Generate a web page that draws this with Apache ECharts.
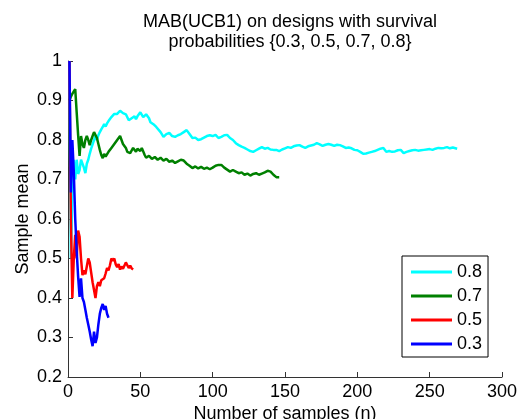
<!DOCTYPE html>
<html><head><meta charset="utf-8">
<script src="https://cdn.jsdelivr.net/npm/echarts@6/dist/echarts.min.js"></script>
<style>html,body{margin:0;padding:0;background:#fff}#c{width:525px;height:419px}</style>
</head><body><div id="c"></div>
<script>
const titleLines = ['MAB(UCB1) on designs with survival', 'probabilities {0.3, 0.5, 0.7, 0.8}'];
const seriesNames = ['0.8', '0.7', '0.5', '0.3'];
const seriesColors = ['#00FFFF', '#008000', '#FF0000', '#0000FF'];
const xTicks = [0, 50, 100, 150, 200, 250, 300];
const yTicks = [0.2, 0.3, 0.4, 0.5, 0.6, 0.7, 0.8, 0.9, 1];

const cyan08 = [[1,1.0],[2,0.5],[3,0.667],[4,0.75],[5,0.7],[6,0.75],[7,0.714],[8,0.724],[9,0.75],[10,0.745],[11,0.73],[12,0.716],[13,0.74],[14,0.75],[15,0.765],[16,0.778],[17,0.789],[18,0.8],[19,0.81],[20,0.8],[21,0.812],[22,0.82],[23,0.827],[24,0.833],[25,0.84],[26,0.834],[27,0.842],[28,0.848],[29,0.853],[30,0.858],[31,0.862],[32,0.866],[33,0.862],[34,0.866],[35,0.87],[36,0.874],[37,0.877],[38,0.868],[39,0.872],[40,0.865],[41,0.87],[42,0.85],[43,0.852],[44,0.855],[45,0.858],[46,0.86],[47,0.853],[48,0.86],[49,0.865],[50,0.87],[51,0.868],[52,0.858],[53,0.862],[54,0.865],[55,0.862],[56,0.855],[57,0.845],[58,0.848],[59,0.84],[60,0.835],[61,0.833],[62,0.83],[64,0.82],[66,0.808],[68,0.815],[70,0.818],[72,0.81],[74,0.808],[76,0.812],[78,0.815],[80,0.82],[82,0.825],[84,0.815],[86,0.805],[88,0.806],[90,0.8],[92,0.802],[94,0.806],[96,0.81],[98,0.812],[100,0.81],[102,0.813],[104,0.805],[106,0.808],[108,0.812],[110,0.813],[112,0.805],[114,0.8],[116,0.792],[118,0.787],[120,0.783],[122,0.78],[124,0.776],[126,0.772],[128,0.77],[130,0.774],[132,0.778],[134,0.782],[136,0.778],[138,0.78],[140,0.776],[142,0.775],[144,0.775],[146,0.772],[148,0.776],[150,0.779],[152,0.782],[154,0.78],[156,0.784],[158,0.786],[160,0.787],[162,0.783],[164,0.78],[166,0.784],[168,0.786],[170,0.788],[172,0.792],[174,0.789],[176,0.785],[178,0.788],[180,0.79],[182,0.788],[184,0.785],[186,0.788],[188,0.787],[190,0.784],[192,0.78],[194,0.781],[196,0.779],[198,0.775],[200,0.774],[202,0.77],[204,0.765],[206,0.766],[208,0.768],[210,0.77],[212,0.772],[214,0.775],[216,0.778],[218,0.78],[220,0.77],[222,0.772],[224,0.77],[226,0.771],[228,0.774],[230,0.775],[232,0.767],[234,0.77],[236,0.772],[238,0.774],[240,0.775],[242,0.773],[244,0.774],[246,0.775],[248,0.776],[250,0.777],[252,0.775],[254,0.778],[256,0.78],[258,0.779],[260,0.78],[262,0.782],[264,0.779],[266,0.781],[269,0.778]];

const green07 = [[1,0.9],[2,0.91],[3,0.917],[4,0.923],[5,0.929],[6,0.87],[7,0.813],[8,0.76],[9,0.81],[10,0.79],[11,0.78],[12,0.8],[13,0.81],[14,0.8],[15,0.787],[16,0.8],[17,0.81],[18,0.82],[19,0.815],[20,0.805],[21,0.79],[22,0.775],[23,0.762],[24,0.754],[25,0.765],[26,0.758],[27,0.762],[28,0.77],[29,0.775],[30,0.78],[31,0.785],[32,0.79],[33,0.795],[34,0.8],[35,0.805],[36,0.81],[37,0.81],[38,0.79],[39,0.795],[40,0.78],[41,0.77],[42,0.772],[43,0.767],[44,0.772],[45,0.78],[46,0.775],[47,0.77],[48,0.778],[49,0.775],[50,0.772],[51,0.78],[52,0.775],[53,0.762],[54,0.755],[56,0.76],[58,0.752],[60,0.757],[62,0.75],[64,0.755],[66,0.748],[68,0.752],[70,0.745],[72,0.748],[74,0.742],[76,0.746],[78,0.75],[80,0.748],[82,0.74],[84,0.735],[86,0.729],[88,0.733],[90,0.728],[92,0.732],[94,0.727],[96,0.73],[98,0.726],[100,0.73],[102,0.735],[104,0.737],[106,0.737],[108,0.73],[110,0.725],[112,0.72],[114,0.724],[116,0.72],[118,0.716],[120,0.718],[122,0.712],[124,0.715],[126,0.71],[128,0.714],[130,0.716],[132,0.712],[134,0.715],[136,0.718],[138,0.722],[140,0.72],[142,0.712],[144,0.706],[146,0.706]];

const red05 = [[1,1.0],[2,0.6],[3,0.4],[4,0.5],[5,0.56],[6,0.5],[7,0.571],[8,0.555],[9,0.5],[10,0.458],[11,0.47],[12,0.46],[13,0.48],[14,0.5],[15,0.49],[16,0.465],[17,0.44],[18,0.42],[19,0.4],[20,0.43],[21,0.44],[22,0.43],[23,0.445],[24,0.44],[25,0.45],[26,0.462],[27,0.476],[28,0.47],[29,0.483],[30,0.5],[31,0.494],[32,0.5],[33,0.485],[34,0.478],[35,0.486],[36,0.472],[37,0.48],[38,0.474],[39,0.478],[40,0.49],[41,0.483],[42,0.476],[43,0.482],[44,0.475],[45,0.472]];

const blue03 = [[1,1.0],[2,0.667],[3,0.8],[4,0.72],[5,0.6],[6,0.52],[7,0.454],[8,0.403],[9,0.45],[10,0.4],[11,0.39],[12,0.37],[13,0.35],[14,0.333],[15,0.315],[16,0.295],[17,0.278],[18,0.315],[19,0.286],[20,0.3],[21,0.333],[22,0.36],[23,0.375],[24,0.385],[25,0.37],[26,0.38],[27,0.36],[28,0.35]];

const allData = [cyan08, green07, red05, blue03];
const FONT = 'Liberation Sans, Arial, Helvetica, sans-serif';

const chart = echarts.init(document.getElementById('c'), null, {renderer: 'canvas'});
chart.setOption({
  animation: false,
  backgroundColor: '#fff',
  title: {
    text: titleLines.join('\n'),
    left: 285, top: 7, textAlign: 'center',
    textStyle: {fontFamily: FONT, fontSize: 18, fontWeight: 'normal', color: '#000', lineHeight: 20}
  },
  grid: {left: 68, right: 23, top: 61, bottom: 42, containLabel: false, outerBoundsMode: 'none'},
  legend: {
    orient: 'vertical', left: 402, top: 256,
    data: seriesNames.map(n => ({name: n, icon: 'rect'})),
    itemWidth: 41, itemHeight: 3, itemGap: 6,
    padding: [7, 6, 4, 9],
    borderColor: '#000', borderWidth: 1, backgroundColor: '#fff',
    textStyle: {fontFamily: FONT, fontSize: 18, color: '#000', lineHeight: 18}
  },
  xAxis: {
    type: 'value', min: xTicks[0], max: xTicks[xTicks.length - 1], interval: 50,
    name: 'Number of samples (n)', nameLocation: 'middle', nameGap: 28, nameMoveOverlap: false,
    nameTextStyle: {fontFamily: FONT, fontSize: 18, color: '#000'},
    axisLine: {show: true, lineStyle: {color: '#333', width: 1}},
    axisTick: {show: true, inside: true, length: 5, lineStyle: {color: '#333'}},
    axisLabel: {fontFamily: FONT, fontSize: 18, color: '#000', margin: 6},
    splitLine: {show: false}
  },
  yAxis: {
    type: 'value', min: yTicks[0], max: yTicks[yTicks.length - 1], interval: 0.1,
    name: 'Sample mean', nameLocation: 'middle', nameGap: 36, nameMoveOverlap: false,
    nameTextStyle: {fontFamily: FONT, fontSize: 18, color: '#000'},
    axisLine: {show: true, lineStyle: {color: '#333', width: 1}},
    axisTick: {show: true, inside: true, length: 5, lineStyle: {color: '#333'}},
    axisLabel: {fontFamily: FONT, fontSize: 18, color: '#000', margin: 6,
      formatter: v => String(Number(v.toFixed(1)))},
    splitLine: {show: false}
  },
  series: seriesNames.map((n, i) => ({
    name: n, type: 'line', data: allData[i], showSymbol: false, symbol: 'none',
    color: seriesColors[i],
    lineStyle: {color: seriesColors[i], width: 2.5},
    itemStyle: {color: seriesColors[i]}
  }))
});
</script></body></html>
